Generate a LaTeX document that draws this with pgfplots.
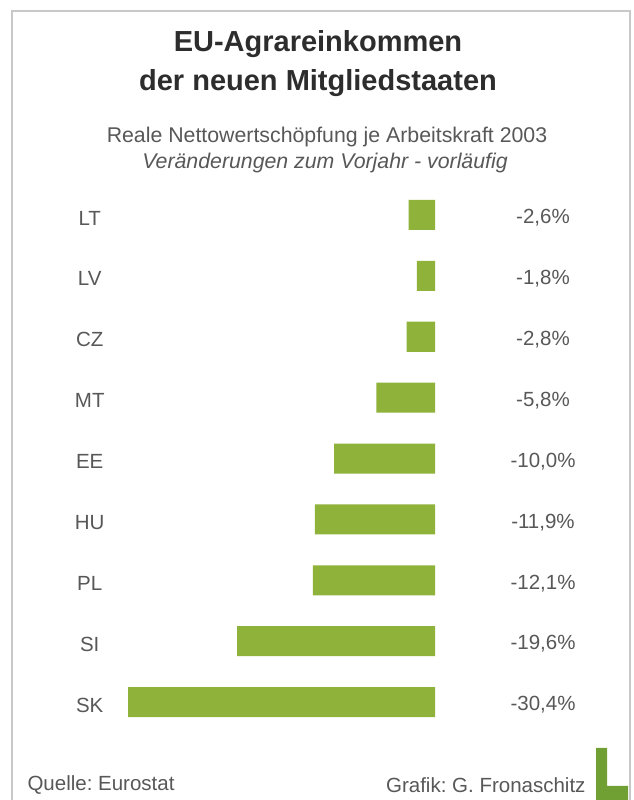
\documentclass[border=0pt]{standalone}
\usepackage{fontspec}
\setmainfont{Liberation Sans}
\usepackage{pgfplots}
\pgfplotsset{compat=1.18}
\frenchspacing
\definecolor{barg}{RGB}{142,178,58}
\definecolor{logog}{RGB}{112,160,52}
\definecolor{txt}{RGB}{88,88,88}
\definecolor{ttl}{RGB}{45,45,45}
\definecolor{frm}{RGB}{200,200,200}
\begin{document}
\begin{tikzpicture}
\useasboundingbox (0,0) rectangle (634pt,800pt);
\fill[white] (0,0) rectangle (634pt,800pt);
\draw[frm, line width=1.2pt] (12pt,-5pt) -- (12pt,789pt) -- (630pt,789pt) -- (630pt,-5pt);
% titles
\node[ttl, font=\bfseries\fontsize{29}{34}\selectfont] at (318pt,756pt) {EU-Agrareinkommen};
\node[ttl, font=\bfseries\fontsize{29}{34}\selectfont] at (318pt,717pt) {der neuen Mitgliedstaaten};
\node[txt, font=\fontsize{21.3}{25}\selectfont] at (327pt,663pt) {Reale Nettowertschöpfung je Arbeitskraft 2003};
\node[txt, font=\itshape\fontsize{21.3}{25}\selectfont] at (325pt,637pt) {Veränderungen zum Vorjahr - vorläufig};
% footer
\node[txt, font=\fontsize{20.5}{24}\selectfont, anchor=west] at (24pt,15pt) {Quelle: Eurostat};
\node[txt, font=\fontsize{20.5}{24}\selectfont, anchor=east] at (589pt,15pt) {Grafik: G. Fronaschitz};
\fill[logog] (596pt,0pt) -- (596pt,52pt) -- (607pt,52pt) -- (607pt,14pt) -- (628pt,14pt) -- (628pt,0pt) -- cycle;
\begin{axis}[
  at={(128pt,98pt)}, anchor=south west,
  scale only axis, width=307pt, height=487pt,
  xmin=-30.4, xmax=0, ymin=0, ymax=8, y dir=reverse,
  clip=false,
  axis line style={draw=none}, tick style={draw=none},
  xtick=\empty,
  ytick={0,1,2,3,4,5,6,7,8},
  yticklabels={LT,LV,CZ,MT,EE,HU,PL,SI,SK},
  yticklabel style={anchor=center, xshift=-34pt, yshift=-3pt, text=txt, font=\fontsize{20.5}{24}\selectfont},
  xbar, bar width=30pt, bar shift=0pt,
]
\addplot[fill=barg, draw=none] coordinates {
(-2.6,0) (-1.8,1) (-2.8,2) (-5.8,3) (-10.0,4) (-11.9,5) (-12.1,6) (-19.6,7) (-30.4,8)
};
\end{axis}
\begin{axis}[
  at={(128pt,98pt)}, anchor=south west,
  scale only axis, width=307pt, height=487pt,
  xmin=-30.4, xmax=0, ymin=0, ymax=8, y dir=reverse,
  clip=false,
  axis line style={draw=none}, tick style={draw=none},
  xtick=\empty,
  ytick={0,1,2,3,4,5,6,7,8},
  ytick pos=right, yticklabel pos=right,
  yticklabels={{-2,6\%},{-1,8\%},{-2,8\%},{-5,8\%},{-10,0\%},{-11,9\%},{-12,1\%},{-19,6\%},{-30,4\%}},
  yticklabel style={anchor=center, xshift=108pt, yshift=-3pt, text=txt, font=\fontsize{20.5}{24}\selectfont},
]
\addplot[draw=none, mark=none] coordinates {(-1,0) (-1,8)};
\end{axis}
\end{tikzpicture}
\end{document}
